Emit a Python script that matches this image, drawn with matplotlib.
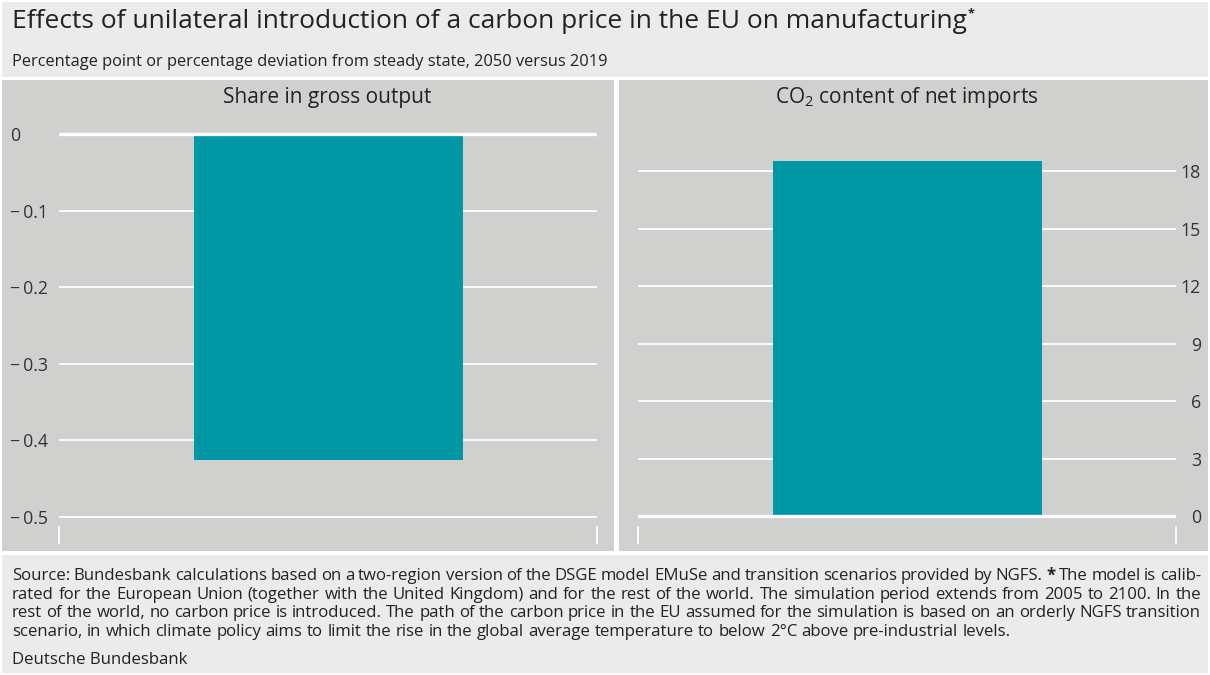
import matplotlib
matplotlib.use("Agg")
import matplotlib.pyplot as plt
from matplotlib.patches import Rectangle

plt.rcParams['font.family'] = ['Open Sans', 'DejaVu Sans']
plt.rcParams['mathtext.fontset'] = 'custom'
plt.rcParams['mathtext.rm'] = 'Open Sans'

# data
panel_titles = ["Share in gross output", "CO$_\\mathrm{2}$ content of net imports"]
values = [-0.425, 18.5]
left_ticks = [0, -0.1, -0.2, -0.3, -0.4, -0.5]
left_labels = ["0", "\u2212\u20090.1", "\u2212\u20090.2", "\u2212\u20090.3", "\u2212\u20090.4", "\u2212\u20090.5"]
right_ticks = [0, 3, 6, 9, 12, 15, 18]
right_labels = ["0", "3", "6", "9", "12", "15", "18"]

title = "Effects of unilateral introduction of a carbon price in the EU on manufacturing"
subtitle = "Percentage point or percentage deviation from steady state, 2050 versus 2019"
footer_lines = [
    "Source: Bundesbank calculations based on a two-region version of the DSGE model EMuSe and transition scenarios provided by NGFS. * The model is calib-",
    "rated for the European Union (together with the United Kingdom) and for the rest of the world. The simulation period extends from 2005 to 2100. In the",
    "rest of the world, no carbon price is introduced. The path of the carbon price in the EU assumed for the simulation is based on an orderly NGFS transition",
    "scenario, in which climate policy aims to limit the rise in the global average temperature to below 2°C above pre-industrial levels.",
]
source = "Deutsche Bundesbank"

light = "#ebebeb"
panel = "#d0d0ce"
teal = "#0097a7"
txt = "#222222"

W, H = 1210, 675
fig = plt.figure(figsize=(W / 100, H / 100), dpi=100, facecolor="white")


def box(x0, y0, x1, y1, color):
    fig.add_artist(Rectangle((x0 / W, 1 - y1 / H), (x1 - x0) / W, (y1 - y0) / H,
                             transform=fig.transFigure, color=color, lw=0, zorder=0))


box(2, 2, 1208, 77, light)
box(2, 80, 614, 551, panel)
box(619, 80, 1208, 551, panel)
box(2, 555, 1208, 673, light)

t = fig.text(12 / W, 1 - 22 / H, title, fontsize=19, color=txt, va="center")
fig.canvas.draw()
r = fig.canvas.get_renderer()
bb = t.get_window_extent(r)
fig.text(bb.x1 / W + 0.001, (bb.y1 + 2) / H, "*", fontsize=9, color=txt, va="top", weight="bold")
fig.text(12 / W, 1 - 62 / H, subtitle, fontsize=11.8, color=txt, va="center")


def make_ax(x0, x1, ylim):
    ax = fig.add_axes([x0 / W, 1 - 545 / H, (x1 - x0) / W, (545 - 128) / H])
    ax.set_facecolor("none")
    for s in ax.spines.values():
        s.set_visible(False)
    ax.set_xlim(-0.5, 0.5)
    ax.set_ylim(*ylim)
    ax.set_xticks([])
    ax.set_axisbelow(True)
    ax.grid(axis="y", color="white", lw=1.3)
    ax.axhline(0, color="white", lw=2.4, zorder=3)
    for xp in (0, 1):
        ax.axvline(-0.5 + xp, ymin=0.005, ymax=0.043, color="white", lw=1.3, clip_on=False)
    return ax


axl = make_ax(59, 597, (-0.5366, 0.0078))
axl.bar([0], [values[0]], width=0.5, color=teal, lw=0, zorder=2)
axl.set_yticks(left_ticks, left_labels)
axl.tick_params(axis="y", length=0, pad=35, labelsize=12.8, labelcolor="#333333")
for lab in axl.get_yticklabels():
    lab.set_ha("left")

axr = make_ax(638, 1176, (-1.485, 20.24))
axr.bar([0], [values[1]], width=0.5, color=teal, lw=0, zorder=2)
axr.yaxis.tick_right()
axr.set_yticks(right_ticks, right_labels)
axr.tick_params(axis="y", length=0, pad=18, labelsize=12.8, labelcolor="#333333")
for lab in axr.get_yticklabels():
    lab.set_ha("right")

fig.text(327 / W, 1 - 98 / H, panel_titles[0], fontsize=15, color=txt, ha="center", va="center")
fig.text(907 / W, 1 - 98 / H, panel_titles[1], fontsize=15, color=txt, ha="center", va="center")

# justified footer
fs = 12.1
xl, xr = 12, 1201
ys = [576, 595, 613, 632]
a = fig.text(0, 0, "a a", fontsize=fs)
b = fig.text(0, 0, "aa", fontsize=fs)
space = a.get_window_extent(r).width - b.get_window_extent(r).width
a.remove()
b.remove()
for i, line in enumerate(footer_lines):
    words = line.split(" ")
    texts = [fig.text(0, 1 - ys[i] / H, w, fontsize=fs, color=txt, va="center",
                      weight="bold" if w == "*" else "normal") for w in words]
    widths = [tx.get_window_extent(r).width for tx in texts]
    if i < len(footer_lines) - 1:
        gap = (xr - xl - sum(widths)) / (len(words) - 1)
    else:
        gap = space
    x = xl
    for tx, w in zip(texts, widths):
        tx.set_x(x / W)
        x += w + gap

fig.text(12 / W, 1 - 660 / H, source, fontsize=fs, color=txt, va="center")

fig.savefig("out.png", dpi=100, facecolor="white")
